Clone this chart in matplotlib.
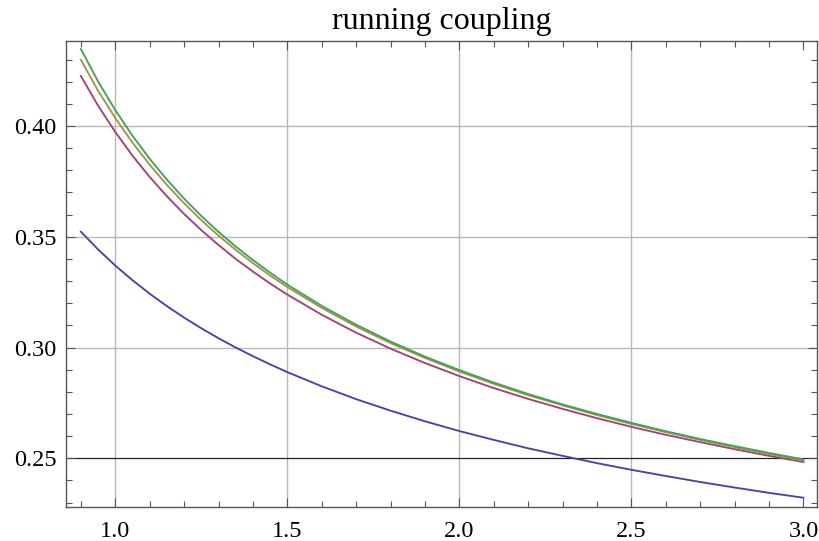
import matplotlib

matplotlib.use("Agg")
import matplotlib.pyplot as plt
from matplotlib.ticker import MultipleLocator, FormatStrFormatter

# scale Q (x) and the four coupling curves
q = [0.90, 0.95, 1.00, 1.05, 1.10, 1.15, 1.20, 1.25, 1.30, 1.35, 1.40, 1.45, 1.50,
     1.60, 1.70, 1.80, 1.90, 2.00, 2.10, 2.20, 2.30, 2.40, 2.50, 2.60, 2.70, 2.80,
     2.90, 3.00]
alpha_1 = [0.3523, 0.3443, 0.3370, 0.3304, 0.3243, 0.3187, 0.3135, 0.3087, 0.3042,
           0.3000, 0.2961, 0.2924, 0.2889, 0.2825, 0.2767, 0.2715, 0.2667, 0.2623,
           0.2583, 0.2545, 0.2511, 0.2478, 0.2448, 0.2420, 0.2393, 0.2368, 0.2344,
           0.2322]
alpha_2 = [0.4226, 0.4092, 0.3973, 0.3866, 0.3770, 0.3683, 0.3603, 0.3530, 0.3463,
           0.3400, 0.3343, 0.3289, 0.3239, 0.3148, 0.3067, 0.2995, 0.2930, 0.2871,
           0.2817, 0.2768, 0.2723, 0.2681, 0.2642, 0.2606, 0.2573, 0.2541, 0.2511,
           0.2483]
alpha_3 = [0.4299, 0.4159, 0.4036, 0.3925, 0.3825, 0.3734, 0.3651, 0.3575, 0.3505,
           0.3441, 0.3381, 0.3325, 0.3273, 0.3179, 0.3095, 0.3020, 0.2953, 0.2892,
           0.2836, 0.2785, 0.2739, 0.2695, 0.2655, 0.2618, 0.2583, 0.2550, 0.2519,
           0.2490]
alpha_4 = [0.4348, 0.4201, 0.4072, 0.3956, 0.3852, 0.3758, 0.3672, 0.3594, 0.3522,
           0.3456, 0.3395, 0.3338, 0.3284, 0.3188, 0.3103, 0.3027, 0.2959, 0.2898,
           0.2842, 0.2790, 0.2743, 0.2700, 0.2660, 0.2622, 0.2587, 0.2555, 0.2524,
           0.2495]
series = [alpha_1, alpha_2, alpha_3, alpha_4]
colors = ["#4545a8", "#a2417a", "#a39443", "#41a25a"]

x_grid = [1.0, 1.5, 2.0, 2.5]
y_grid = [0.30, 0.35, 0.40]
axis_y = 0.25

plt.rcParams["font.family"] = ["Liberation Serif", "DejaVu Serif"]

fig = plt.figure(figsize=(8.19, 5.41), dpi=100)
ax = fig.add_axes([0.0802, 0.0634, 0.917, 0.8608])

for xv in x_grid:
    ax.axvline(xv, color="#b8b8b8", lw=1.0, zorder=1)
for yv in y_grid:
    ax.axhline(yv, color="#b8b8b8", lw=1.0, zorder=1)
ax.axhline(axis_y, color="#222222", lw=0.9, zorder=1.5)

for vals, c in zip(series, colors):
    ax.plot(q, vals, color=c, lw=1.35, zorder=2)

ax.set_xlim(0.8559, 3.0384)
ax.set_ylim(0.22815, 0.43837)

ax.xaxis.set_major_locator(MultipleLocator(0.5))
ax.xaxis.set_minor_locator(MultipleLocator(0.1))
ax.yaxis.set_major_locator(MultipleLocator(0.05))
ax.yaxis.set_minor_locator(MultipleLocator(0.01))
ax.xaxis.set_major_formatter(FormatStrFormatter("%.1f"))
ax.yaxis.set_major_formatter(FormatStrFormatter("%.2f"))

frame = "#555555"
for sp in ax.spines.values():
    sp.set_color(frame)
    sp.set_linewidth(1.0)
ax.tick_params(which="both", direction="in", top=True, right=True,
               color=frame, width=0.8, labelsize=17.5)
ax.tick_params(which="major", length=6.5)
ax.tick_params(which="minor", length=4)
ax.tick_params(axis="y", pad=6.5)
ax.tick_params(axis="x", pad=10)

fig.text(442 / 819, 1 - 21 / 541, "running coupling", ha="center", va="center",
         fontsize=23)

fig.savefig("out.png", dpi=100)
